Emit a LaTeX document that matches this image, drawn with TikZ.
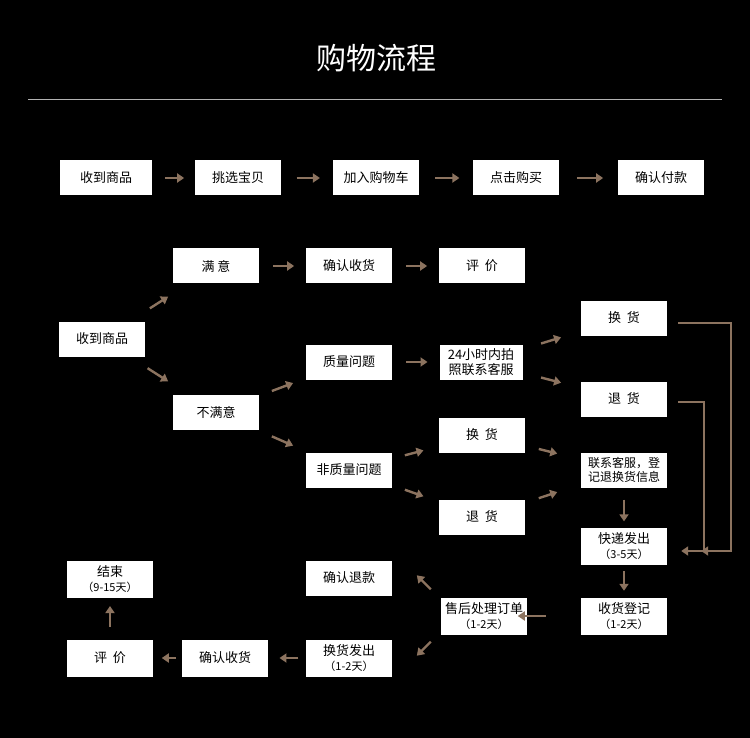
\documentclass[tikz,border=0pt]{standalone}
\usepackage{fontspec}
\setmainfont{Noto Sans CJK SC}
\usetikzlibrary{calc,arrows.meta}
\definecolor{arrowBrown}{RGB}{140,115,95}
\tikzstyle{flowBox}=[shape=rectangle,fill=white,draw=none,minimum width=86pt,minimum height=35pt,inner sep=1pt,align=center,font=\fontsize{13pt}{15pt}\selectfont]
\tikzstyle{flow}=[-{Triangle[length=7pt,width=9pt]},line width=2.4pt,draw=arrowBrown]
\newcommand{\days}[1]{{\fontsize{11pt}{13pt}\selectfont （#1）}}

\begin{document}
\begin{tikzpicture}[x=1pt,y=-1pt]
        \fill[black] (0,0) rectangle (750,738);
        \useasboundingbox (0,0) rectangle (750,738);

        % title
        \node[text=white,font=\fontsize{30pt}{32pt}\selectfont] (title) at (376,58) {购物流程};
        \draw[gray!60,line width=0.6pt] (28,99) -- (722,99);

        % buying
        \node[flowBox,minimum width=92pt] (get0) at (106,178) {收到商品};
        \node[flowBox] (pick) at (238,178) {挑选宝贝};
        \node[flowBox] (cart) at (376,178) {加入购物车};
        \node[flowBox] (buy)  at (516,178) {点击购买};
        \node[flowBox] (pay)  at (661,178) {确认付款};

        % after receiving
        \node[flowBox] (get)     at (102,339) {收到商品};
        \node[flowBox] (ok)      at (216,266) {满\ 意};
        \node[flowBox] (okRecv)  at (349,266) {确认收货};
        \node[flowBox] (okRate)  at (482,266) {评\ \ 价};
        \node[flowBox] (notOk)   at (216,412) {不满意};
        \node[flowBox] (qual)    at (349,362) {质量问题};
        \node[flowBox,minimum width=83pt] (photo) at (481,362) {24小时内拍\\照联系客服};
        \node[flowBox] (qSwap)   at (624,318) {换\ \ 货};
        \node[flowBox] (qBack)   at (624,399) {退\ \ 货};
        \node[flowBox] (noQual)  at (349,470) {非质量问题};
        \node[flowBox] (nSwap)   at (482,435) {换\ \ 货};
        \node[flowBox] (nBack)   at (482,517) {退\ \ 货};
        \node[flowBox,font=\fontsize{12pt}{14pt}\selectfont] (contact) at (624,470) {联系客服，登\\记退换货信息};
        \node[flowBox,minimum height=37pt] (ship)    at (624,546) {快递发出\\\days{3-5天}};
        \node[flowBox,minimum height=37pt] (reg)     at (624,616) {收货登记\\\days{1-2天}};
        \node[flowBox,minimum height=37pt] (handle)  at (484,616) {售后处理订单\\\days{1-2天}};
        \node[flowBox] (refund)  at (349,578) {确认退款};
        \node[flowBox,minimum height=37pt] (reship)  at (349,658) {换货发出\\\days{1-2天}};
        \node[flowBox,minimum height=37pt] (recv2)   at (225,658) {确认收货};
        \node[flowBox,minimum height=37pt] (rate2)   at (110,658) {评\ \ 价};
        \node[flowBox,minimum height=37pt] (done)    at (110,579) {结束\\\days{9-15天}};

        \draw[flow] ($(get0.east)!0.3!(pick.west)$) -- ($(get0.east)!0.75!(pick.west)$);
        \draw[flow] ($(pick.east)!0.3!(cart.west)$) -- ($(pick.east)!0.75!(cart.west)$);
        \draw[flow] ($(cart.east)!0.3!(buy.west)$) -- ($(cart.east)!0.75!(buy.west)$);
        \draw[flow] ($(buy.east)!0.3!(pay.west)$) -- ($(buy.east)!0.75!(pay.west)$);

        \draw[flow] ($(get)!0.42!(ok)$) -- ($(get)!0.58!(ok)$);
        \draw[flow] ($(get)!0.4!(notOk)$) -- ($(get)!0.58!(notOk)$);
        \draw[flow] ($(ok.east)!0.3!(okRecv.west)$) -- ($(ok.east)!0.75!(okRecv.west)$);
        \draw[flow] ($(okRecv.east)!0.3!(okRate.west)$) -- ($(okRecv.east)!0.75!(okRate.west)$);
        \draw[flow] ($(notOk)!0.42!(qual)$) -- ($(notOk)!0.58!(qual)$);
        \draw[flow] ($(notOk)!0.42!(noQual)$) -- ($(notOk)!0.58!(noQual)$);
        \draw[flow] ($(qual.east)!0.3!(photo.west)$) -- ($(qual.east)!0.75!(photo.west)$);
        \draw[flow] ($(photo)!0.42!(qSwap)$) -- ($(photo)!0.56!(qSwap)$);
        \draw[flow] ($(photo)!0.42!(qBack)$) -- ($(photo)!0.56!(qBack)$);
        \draw[flow] ($(noQual)!0.42!(nSwap)$) -- ($(noQual)!0.56!(nSwap)$);
        \draw[flow] ($(noQual)!0.42!(nBack)$) -- ($(noQual)!0.56!(nBack)$);
        \draw[flow] ($(nSwap)!0.4!(contact)$) -- ($(nSwap)!0.53!(contact)$);
        \draw[flow] ($(nBack)!0.4!(contact)$) -- ($(nBack)!0.53!(contact)$);
        \draw[flow] ($(contact.south)!0.3!(ship.north)$) -- ($(contact.south)!0.85!(ship.north)$);
        \draw[flow] ($(ship.south)!0.2!(reg.north)$) -- ($(ship.south)!0.8!(reg.north)$);
        \draw[flow] ($(reg.west)!0.25!(handle.west)$) -- ($(reg.west)!0.45!(handle.west)$);
        \draw[flow] ($(handle.north west)+(-10,-8)$) -- +(-14,-14);
        \draw[flow] ($(handle.south west)+(-10,7)$) -- +(-14,14);
        \draw[flow] ($(reship.west)!0.2!(recv2.east)$) -- ($(reship.west)!0.7!(recv2.east)$);
        \draw[flow] ($(recv2.west)!0.2!(rate2.east)$) -- ($(recv2.west)!0.7!(rate2.east)$);
        \draw[flow] ($(rate2.north)!0.3!(done.south)$) -- ($(rate2.north)!0.8!(done.south)$);

        % return paths
        \draw[flow,line width=2pt] ($(qSwap.east)+(11,5)$) -| ($(ship.east)+(64,5)$) -- ($(ship.east)+(34,5)$);
        \draw[flow,line width=2pt] ($(qBack.east)+(11,3)$) -| ($(ship.east)+(37,5)$) -- ($(ship.east)+(14,5)$);
    \end{tikzpicture}
\end{document}
